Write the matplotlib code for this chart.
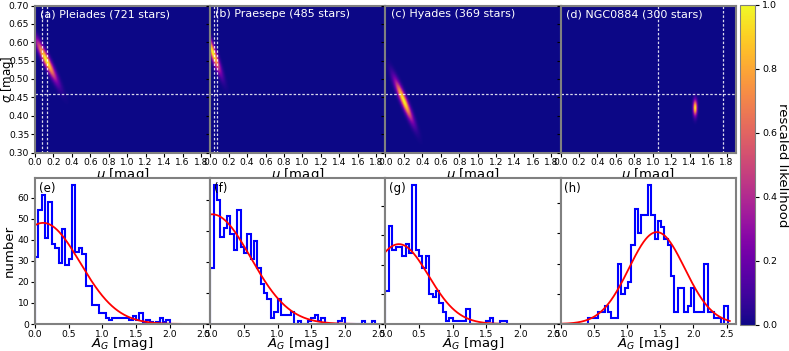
import numpy as np
import matplotlib
matplotlib.use('Agg')
import matplotlib.pyplot as plt

# ---------------- datos ----------------
nombres = ['Pleiades', 'Praesepe', 'Hyades', 'NGC0884']
estrellas = [721, 485, 369, 300]
letras_sup = ['a', 'b', 'c', 'd']
letras_inf = ['e', 'f', 'g', 'h']

ancho_bin = 0.05
inicio_bins = [0.0, 0.0, 0.0, 0.415]

cuentas_pleiades = [32, 54, 61, 41, 58, 38, 36, 29, 45, 28, 31, 66, 34, 36, 33, 18, 18, 9, 9, 5,
                    5, 3, 2, 3, 3, 3, 3, 3, 2, 4, 2, 5, 1, 2, 1, 0, 1, 3, 1, 2]
cuentas_praesepe = [18, 45, 40, 28, 31, 35, 29, 24, 37, 25, 23, 29, 21, 27, 18, 13, 10, 8, 2, 4,
                    8, 3, 3, 3, 4, 0, 1, 0, 0, 1, 2, 3, 1, 2, 0, 0, 0, 0, 1, 2,
                    0, 0, 0, 0, 0, 1, 0, 0, 1]
cuentas_hyades = [11, 33, 25, 26, 26, 23, 27, 24, 47, 25, 23, 19, 23, 10, 9, 11, 7, 4, 1, 2,
                  1, 1, 1, 1, 5, 0, 0, 0, 0, 0, 1, 2, 0, 0, 1, 1]
cuentas_ngc0884 = [1, 1, 1, 2, 2, 3, 2, 1, 1, 10, 5, 6, 7, 13, 19, 15, 18, 18, 23, 18,
                   14, 17, 16, 14, 13, 8, 2, 6, 6, 2, 3, 6, 2, 2, 2, 10, 2, 2, 1, 1,
                   0, 3]
cuentas = [cuentas_pleiades, cuentas_praesepe, cuentas_hyades, cuentas_ngc0884]

# mejor ajuste (mu, sigma) y altura de la curva roja
mu_fit = [0.12, 0.03, 0.20, 1.45]
sig_fit = [0.55, 0.57, 0.44, 0.42]
amp_fit = [48.0, 35.5, 27.0, 15.2]
x_fin_curva = [2.6, 2.6, 2.6, 2.55]

# forma de la region de verosimilitud: desviaciones y correlacion
dmu = [0.072, 0.052, 0.062, 0.014]
dsig = [0.036, 0.034, 0.036, 0.014]
rho = [-0.93, -0.90, -0.92, 0.0]

# lineas de referencia (blancas, punteadas)
sigma_ref = 0.46
mu_ref = [[0.08, 0.135], [0.045, 0.075], [], [1.06, 1.76]]

# ---------------- figura ----------------
mu_grid = np.linspace(0.0, 1.9, 300)
sig_grid = np.linspace(0.3, 0.7, 240)
MU, SIG = np.meshgrid(mu_grid, sig_grid)

fig = plt.figure(figsize=[7.89, 3.51], dpi=100)
W, H = 789.0, 351.0
x0 = 35.0
ancho = 175.2

ax_sup = []
ax_inf = []
for i in range(4):
    a = fig.add_axes([(x0 + i * ancho) / W, 1 - 152.5 / H, ancho / W, 147.0 / H])
    b = fig.add_axes([(x0 + i * ancho) / W, 1 - 324.0 / H, ancho / W, 146.0 / H])
    ax_sup.append(a)
    ax_inf.append(b)

for i in range(4):
    # verosimilitud reescalada (gaussiana 2D correlacionada)
    u = (MU - mu_fit[i]) / dmu[i]
    v = (SIG - sig_fit[i]) / dsig[i]
    q = (u ** 2 - 2 * rho[i] * u * v + v ** 2) / (1 - rho[i] ** 2)
    L = np.exp(-0.5 * q)

    ax = ax_sup[i]
    im = ax.imshow(L, origin='lower', extent=[0, 1.9, 0.3, 0.7], aspect='auto',
                   cmap='plasma', vmin=0, vmax=1, interpolation='bilinear')
    ax.axhline(sigma_ref, color='white', lw=0.9, ls=(0, (2, 1.5)), alpha=0.85)
    for m in mu_ref[i]:
        ax.axvline(m, color='white', lw=0.9, ls=(0, (2, 1.5)), alpha=0.85)
    ax.set_xlim(0, 1.9)
    ax.set_ylim(0.3, 0.7)
    ax.set_xticks(np.arange(0, 1.81, 0.2))
    ax.set_yticks(np.arange(0.3, 0.701, 0.05))
    ax.text(0.03, 0.975, '(%s) %s (%d stars)' % (letras_sup[i], nombres[i], estrellas[i]),
            transform=ax.transAxes, color='white', fontsize=8, va='top', ha='left')
    ax.set_xlabel(r'$\mu$ [mag]', fontsize=9.5, labelpad=-1)

    # histograma + curva ajustada
    n = np.array(cuentas[i], dtype=float)
    bordes = inicio_bins[i] + ancho_bin * np.arange(len(n) + 1)
    xc = 0.5 * (bordes[1:] + bordes[:-1])
    ax = ax_inf[i]
    ax.hist(xc, bins=bordes, weights=n, histtype='step', color='blue', lw=1.5)
    xs = np.linspace(0, x_fin_curva[i], 400)
    ys = amp_fit[i] * np.exp(-0.5 * ((xs - mu_fit[i]) / sig_fit[i]) ** 2)
    ax.plot(xs, ys, color='red', lw=1.3)
    ax.set_xlim(0, 2.64 if i == 3 else 2.6)
    ax.set_ylim(0, n.max() * 1.05)
    ax.set_xticks(np.arange(0, 2.51, 0.5))
    ax.set_xticklabels(['0.0', '0.5', '1.0', '1.5', '2.0', '2.5'])
    if i == 3:
        ax.set_yticks(np.arange(0, 21, 5))
    else:
        ax.set_yticks(np.arange(0, n.max() + 1, 10))
    ax.text(0.02, 0.975, '(%s)' % letras_inf[i], transform=ax.transAxes,
            color='black', fontsize=8.5, va='top', ha='left')
    ax.set_xlabel(r'$A_G$ [mag]', fontsize=9.5, labelpad=-2.5)

#-------------------------estilo-------------------------
for i, ax in enumerate(ax_sup + ax_inf):
    ax.tick_params(labelsize=6.6, length=3, width=0.8, pad=1.2)
    for s in ax.spines.values():
        s.set_color('grey')
        s.set_linewidth(1.5)
    if i % 4 != 0:
        ax.tick_params(labelleft=False)

ax_sup[0].set_ylabel(r'$\sigma$ [mag]', fontsize=8.5)
ax_inf[0].set_ylabel('number', fontsize=9.5)
ax_sup[0].yaxis.set_label_coords(-0.108, 0.5)
ax_inf[0].yaxis.set_label_coords(-0.11, 0.5)

cax = fig.add_axes([739.5 / W, 1 - 325 / H, 15.5 / W, 320 / H])
cb = fig.colorbar(im, cax=cax)
cb.set_ticks(np.arange(0, 1.01, 0.2))
cb.ax.tick_params(labelsize=6.8, length=3, pad=2)
cb.outline.set_edgecolor('grey')
cb.set_label('rescaled likelihood', rotation=270, fontsize=9.5, labelpad=9)

fig.savefig('out.png', dpi=100)
